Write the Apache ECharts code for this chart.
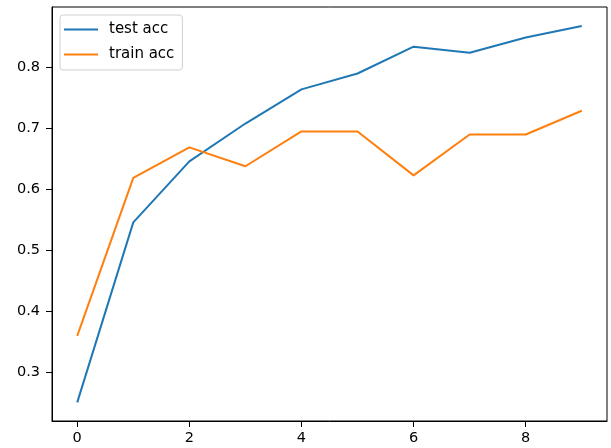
<!DOCTYPE html>
<html><head><meta charset="utf-8">
<script src="https://cdn.jsdelivr.net/npm/echarts@6/dist/echarts.min.js"></script>
<style>html,body{margin:0;padding:0;background:#fff}#c{width:611px;height:448px}</style>
</head><body><div id="c"></div>
<script>
const epochs = [0,1,2,3,4,5,6,7,8,9];
const testAcc = [0.250,0.545,0.645,0.707,0.763,0.789,0.833,0.823,0.848,0.867];
const trainAcc = [0.359,0.618,0.668,0.637,0.694,0.694,0.622,0.689,0.689,0.728];
const xTicks = [0,2,4,6,8];
const yTicks = [0.3,0.4,0.5,0.6,0.7,0.8];
const font = 'DejaVu Sans';
const chart = echarts.init(document.getElementById('c'));
chart.setOption({
  animation:false,
  grid:{left:52,right:4,top:7,bottom:27,show:true,borderColor:'#000',borderWidth:1},
  legend:{left:60,top:15,orient:'vertical',itemWidth:34,itemHeight:2,itemGap:8,
    icon:'rect',padding:[6,8,7,4],borderColor:'#d0d0d0',borderWidth:1,borderRadius:3,
    textStyle:{fontFamily:font,fontSize:15,color:'#000',padding:[1,0,0,6],lineHeight:16},
    data:['test acc','train acc']},
  xAxis:{type:'value',min:-0.45,max:9.45,splitLine:{show:false},
    axisLine:{show:true,onZero:false,lineStyle:{color:'#000'}},
    axisTick:{show:true,length:6,customValues:xTicks,lineStyle:{color:'#000'}},
    axisLabel:{customValues:xTicks,fontFamily:font,fontSize:14.5,color:'#000',margin:10,
      formatter:v=>String(v)}},
  yAxis:{type:'value',min:0.2195,max:0.898,splitLine:{show:false},
    axisLine:{show:true,onZero:false,lineStyle:{color:'#000'}},
    axisTick:{show:true,length:6,customValues:yTicks,lineStyle:{color:'#000'}},
    axisLabel:{customValues:yTicks,fontFamily:font,fontSize:14.5,color:'#000',margin:12,
      formatter:v=>v.toFixed(1)}},
  series:[
    {name:'test acc',type:'line',data:epochs.map((e,i)=>[e,testAcc[i]]),showSymbol:false,
      itemStyle:{color:'#1f77b4'},lineStyle:{color:'#1f77b4',width:2}},
    {name:'train acc',type:'line',data:epochs.map((e,i)=>[e,trainAcc[i]]),showSymbol:false,
      itemStyle:{color:'#ff7f0e'},lineStyle:{color:'#ff7f0e',width:2}}
  ]
});
</script></body></html>
